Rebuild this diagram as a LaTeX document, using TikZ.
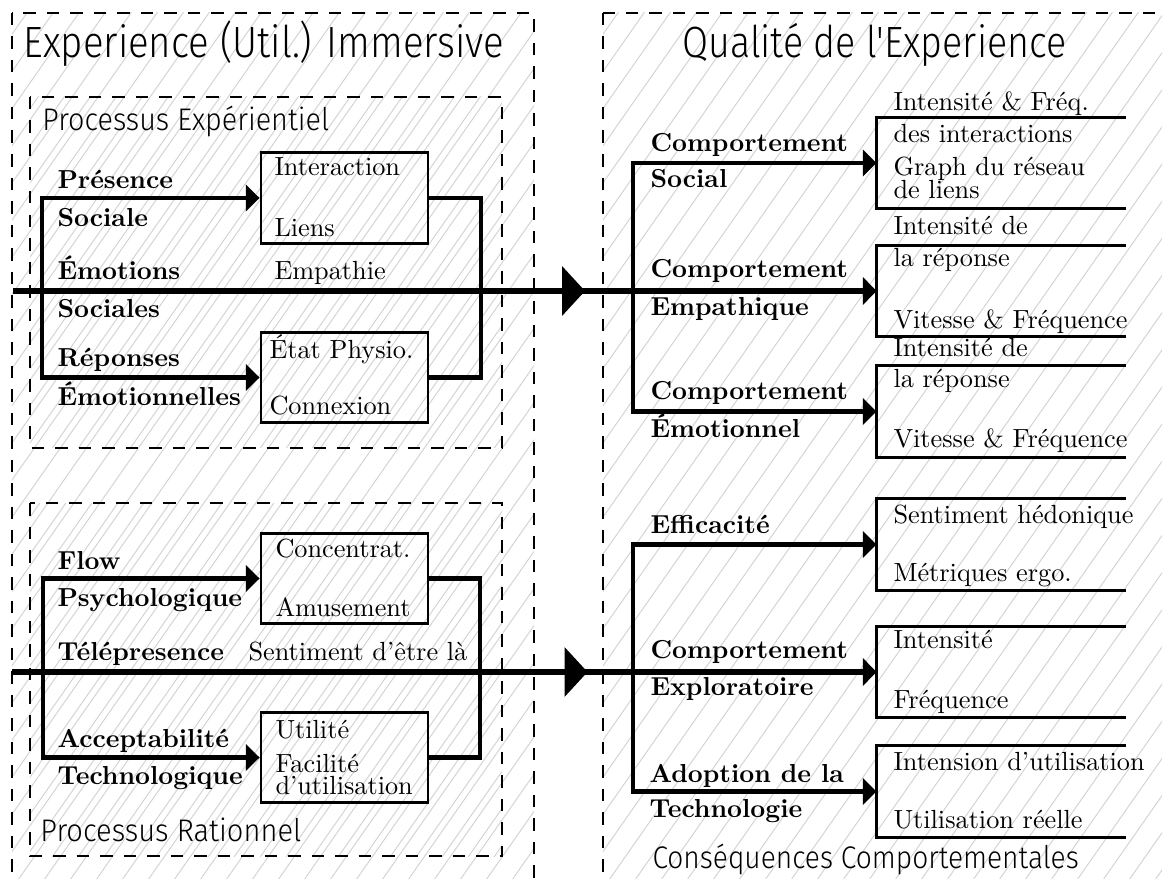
\documentclass[tikz,border=0pt]{standalone}
\usepackage{fontspec}
\usepackage{graphicx}
\usetikzlibrary{arrows.meta}
\IfFontExistsTF{Fira Sans Light}{\newfontfamily\titlefont{Fira Sans Light}}{\newfontfamily\titlefont{Fira Sans}}
\tikzset{
  hatchline/.style={black!17, line width=0.4pt},
  dashbox/.style={dash pattern=on 5pt off 4.4pt, line width=0.6pt},
  lbl/.style={anchor=base west, inner sep=0pt, font=\fontsize{10.5}{12}\selectfont},
  blbl/.style={anchor=base west, inner sep=0pt, font=\bfseries\fontsize{10.4}{12}\selectfont},
  ttl/.style={anchor=base west, inner sep=0pt, font=\titlefont\fontsize{17.5}{20}\selectfont},
  subttl/.style={anchor=base west, inner sep=0pt, font=\titlefont\fontsize{12.5}{14}\selectfont},
  lbox/.style={draw, line width=1.15pt, inner sep=0pt, minimum width=66.8pt, minimum height=36.2pt},
  rbox/.style={inner sep=0pt, minimum width=99.2pt, minimum height=36.2pt},
  rbrk/.style={line width=1.3pt},
  brk/.style={line width=1.9pt, line join=miter},
  tipb/.tip={Triangle[length=5.5pt,width=10.5pt]},
  mainln/.style={line width=2.3pt, -{Triangle[length=5.5pt,width=11pt]}},
}
\begin{document}
\begin{tikzpicture}[x=0.4pt,y=-0.4pt]
\useasboundingbox (0,0) rectangle (1162,879);
\clip (0,0) rectangle (1162,879);

% ---------- hatching ----------
\foreach \xa/\ya/\xb/\yb in {12/13/534/960, 603/13/1260/960, 30/97/502/448, 30/503/502/856}{
  \begin{scope}
    \clip (\xa,\ya) rectangle (\xb,\yb);
    \foreach \k in {0,...,75}
      \draw[hatchline] ({\xa-700+\k*26},960) -- ++(672,-960);
  \end{scope}
}

% ---------- dashed frames ----------
\draw[dashbox] (12,13) rectangle (534,960);
\draw[dashbox] (603,13) rectangle (1260,960);
\draw[dashbox] (30,97) rectangle (502,448);
\draw[dashbox] (30,503) rectangle (502,856);

% ---------- titles ----------
\node[ttl] (t1) at (23,58) {\scalebox{0.878}[1]{Experience (Util.) Immersive}};
\node[ttl] (t2) at (682,58) {\scalebox{0.86}[1]{Qualité de l'Experience}};
\node[subttl] (s1) at (42,131) {\scalebox{0.92}[1]{Processus Expérientiel}};
\node[subttl] (s2) at (40,841) {\scalebox{0.93}[1]{Processus Rationnel}};
\node[subttl] (s3) at (652,868) {\scalebox{0.9}[1]{Conséquences Comportementales}};

% ---------- left boxes ----------
\node[lbox] (b1) at (344.5,198) {};
\node[lbox] (b2) at (344.5,377.5) {};
\node[lbox] (b3) at (344.5,578.5) {};
\node[lbox] (b4) at (344.5,757.5) {};

% ---------- right open boxes ----------
\node[rbox] (r1) at (1001,163) {};
\node[rbox] (r2) at (1001,291) {};
\node[rbox] (r3) at (1001,411.5) {};
\node[rbox] (r4) at (1001,544.5) {};
\node[rbox] (r5) at (1001,672) {};
\node[rbox] (r6) at (1001,791.5) {};
\foreach \r in {r1,r2,r3,r4,r5,r6}
  \draw[rbrk] (\r.north east) -- (\r.north west) -- (\r.south west) -- (\r.south east);

% ---------- coordinates ----------
\coordinate (m1) at (13,291);
\coordinate (m2) at (12,672);
\coordinate (l1t) at (42,198);   \coordinate (l1b) at (42,377.5);
\coordinate (q1t) at (481,198);  \coordinate (q1b) at (481,377.5);
\coordinate (l2t) at (43,578.5); \coordinate (l2b) at (43,757.5);
\coordinate (q2t) at (480,578.5);\coordinate (q2b) at (480,757.5);
\coordinate (c1t) at (633,163);  \coordinate (c1b) at (633,411.5);
\coordinate (c2t) at (633,544.5);\coordinate (c2b) at (633,791.5);
\coordinate (tri1) at (573.5,291);
\coordinate (tri2) at (576,672);

% ---------- connectors ----------
\draw[mainln] (m1) -- (r2.west);
\draw[mainln] (m2) -- (r5.west);
\draw[brk, tipb-tipb] (b1.west) -- (l1t) -- (l1b) -- (b2.west);
\draw[brk] (b1.east) -- (q1t) -- (q1b) -- (b2.east);
\draw[brk, tipb-tipb] (b3.west) -- (l2t) -- (l2b) -- (b4.west);
\draw[brk] (b3.east) -- (q2t) -- (q2b) -- (b4.east);
\draw[brk, tipb-tipb] (r1.west) -- (c1t) -- (c1b) -- (r3.west);
\draw[brk, tipb-tipb] (r4.west) -- (c2t) -- (c2b) -- (r6.west);
\fill (tri1) ++(-11.5,-25) -- ++(23,25) -- ++(-23,25) -- cycle;
\fill (tri2) ++(-11.5,-25) -- ++(23,25) -- ++(-23,25) -- cycle;

% ---------- upper left labels ----------
\node[blbl] (a1) at (57,189) {Présence};
\node[blbl] (a2) at (57,227) {Sociale};
\node[blbl] (a3) at (57,280) {Émotions};
\node[blbl] (a4) at (57,318) {Sociales};
\node[blbl] (a5) at (57,367) {Réponses};
\node[blbl] (a6) at (57,406) {Émotionnelles};
\node[lbl] (a7) at (274,176) {Interaction};
\node[lbl] (a8) at (274,237) {Liens};
\node[lbl] (a9) at (274,280) {Empathie};
\node[lbl] (a10) at (269,359) {État Physio.};
\node[lbl] (a11) at (269,415) {Connexion};

% ---------- lower left labels ----------
\node[blbl] (d1) at (57,569) {Flow};
\node[blbl] (d2) at (57,607) {Psychologique};
\node[blbl] (d3) at (57,660) {Télépresence};
\node[lbl] (d4) at (248,660) {Sentiment d'être là};
\node[blbl] (d5) at (57,747) {Acceptabilité};
\node[blbl] (d6) at (57,784) {Technologique};
\node[lbl] (d7) at (275,557) {Concentrat.};
\node[lbl] (d8) at (275,617) {Amusement};
\node[lbl] (d9) at (275,738) {Utilité};
\node[lbl] (d10) at (275,772) {Facilité};
\node[lbl] (d11) at (275,794) {d'utilisation};

% ---------- upper right labels ----------
\node[blbl] (e1) at (650,152) {Comportement};
\node[blbl] (e2) at (650,188) {Social};
\node[blbl] (e3) at (650,278) {Comportement};
\node[blbl] (e4) at (650,316) {Empathique};
\node[blbl] (e5) at (650,400) {Comportement};
\node[blbl] (e6) at (650,437) {Émotionnel};
\node[lbl] (f1) at (893,111) {Intensité \& Fréq.};
\node[lbl] (f2) at (893,143) {des interactions};
\node[lbl] (f3) at (893,176) {Graph du réseau};
\node[lbl] (f4) at (893,199) {de liens};
\node[lbl] (f5) at (893,235) {Intensité de};
\node[lbl] (f6) at (893,267) {la réponse};
\node[lbl] (f7) at (893,328) {Vitesse \& Fréquence};
\node[lbl] (f8) at (893,357) {Intensité de};
\node[lbl] (f9) at (893,388) {la réponse};
\node[lbl] (f10) at (893,448) {Vitesse \& Fréquence};

% ---------- lower right labels ----------
\node[blbl] (g1) at (650,533) {Efficacité};
\node[blbl] (g2) at (650,658) {Comportement};
\node[blbl] (g3) at (650,695) {Exploratoire};
\node[blbl] (g4) at (649,782) {Adoption de la};
\node[blbl] (g5) at (649,817) {Technologie};
\node[lbl] (h1) at (893,523) {Sentiment hédonique};
\node[lbl] (h2) at (893,581) {Métriques ergo.};
\node[lbl] (h3) at (893,648) {Intensité};
\node[lbl] (h4) at (893,708) {Fréquence};
\node[lbl] (h5) at (893,770) {Intension d'utilisation};
\node[lbl] (h6) at (893,828) {Utilisation réelle};
\end{tikzpicture}
\end{document}
